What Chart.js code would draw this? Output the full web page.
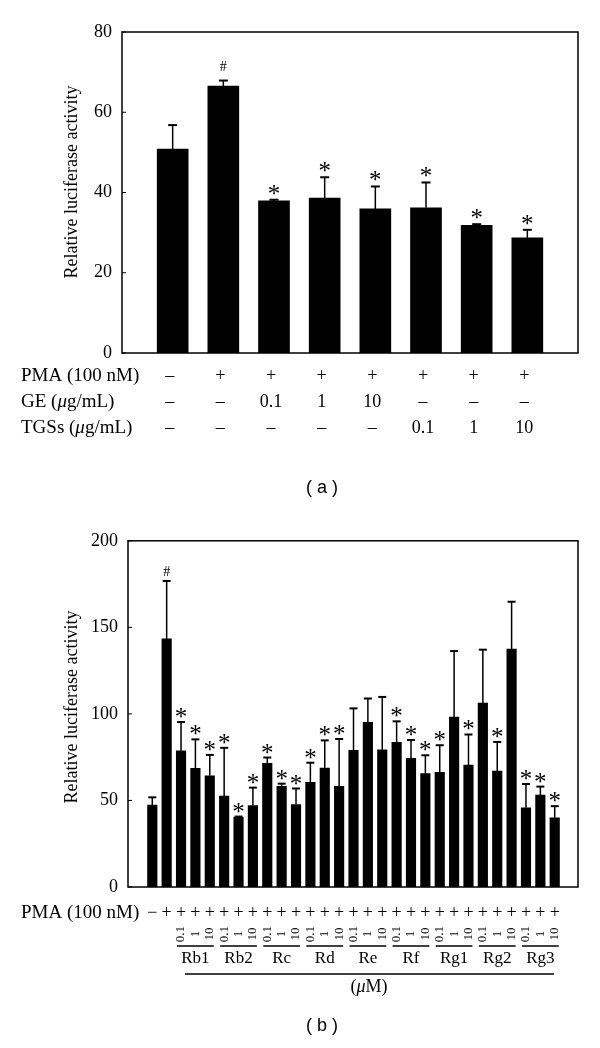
<!DOCTYPE html>
<html>
<head>
<meta charset="utf-8">
<script src="https://cdn.jsdelivr.net/npm/chart.js@4"></script>
<style>
body{margin:0;background:#fff;}
#wrap{position:relative;width:600px;height:1048px;}
canvas{position:absolute;left:0;}
</style>
</head>
<body>
<div id="wrap">
  <canvas id="chartA" width="600" height="520" style="top:0"></canvas>
  <canvas id="chartB" width="600" height="528" style="top:520px"></canvas>
</div>
<script>
// === (a) GE / TGSs ===
const aPMA = ['–','+','+','+','+','+','+','+'];
const aGE = ['–','–','0.1','1','10','–','–','–'];
const aTGS = ['–','–','–','–','–','0.1','1','10'];
const aMean = [50.8, 66.5, 37.9, 38.6, 35.9, 36.2, 31.8, 28.7];
const aErr = [6.0, 1.4, 0.3, 5.2, 5.6, 6.3, 0.3, 2.0];
const aMarks = ['', '#', '*', '*', '*', '*', '*', '*'];
const aTicks = [0, 20, 40, 60, 80];

// === (b) ginsenosides ===
const bPMA = ['−','+','+','+','+','+','+','+','+','+','+','+','+','+','+','+','+','+','+','+','+','+','+','+','+','+','+','+','+'];
const bGroups = ['Rb1','Rb2','Rc','Rd','Re','Rf','Rg1','Rg2','Rg3'];
const bDoses = ['0.1','1','10'];
const bMean = [47.3,143.3,78.7,68.5,64.2,52.5,40.3,47.1,71.4,58.2,47.6,60.5,68.7,58.2,78.9,95.1,79.3,83.6,74.4,65.5,66.3,98.1,70.4,106.2,67.0,137.5,45.8,53.1,39.9];
const bErr = [4.5,33.5,16.6,16.8,12.1,27.9,0.4,10.3,3.4,1.5,9.3,11.3,16.0,27.3,24.3,13.8,30.5,12.1,10.5,10.6,15.6,38.2,17.7,30.9,16.8,27.3,13.7,4.9,6.8];
const bMarks = ['','#','*','*','*','*','*','*','*','*','*','*','*','*','','','','*','*','*','*','','*','','*','','*','*','*'];
const bTicks = [0, 50, 100, 150, 200];

const SERIF = '"Liberation Serif", "DejaVu Serif", serif';

function richText(ctx, parts, x, y, size) {
  ctx.textAlign = 'left';
  parts.forEach(([t, it]) => {
    ctx.font = (it ? 'italic ' : '') + size + 'px ' + SERIF;
    ctx.fillText(t, x, y);
    x += ctx.measureText(t).width;
  });
}
function richWidth(ctx, parts, size) {
  let w = 0;
  parts.forEach(([t, it]) => {
    ctx.font = (it ? 'italic ' : '') + size + 'px ' + SERIF;
    w += ctx.measureText(t).width;
  });
  return w;
}

// error bars, marks, box, ticks and axis title
function makeExtras(cfg) {
  return {
    id: 'extras',
    afterDatasetsDraw(chart) {
      const ctx = chart.ctx, y = chart.scales.y;
      const meta = chart.getDatasetMeta(0);
      ctx.save();
      ctx.strokeStyle = '#000';
      ctx.fillStyle = '#000';
      meta.data.forEach((bar, i) => {
        const top = y.getPixelForValue(cfg.mean[i] + cfg.err[i]);
        ctx.lineWidth = 1.5;
        ctx.beginPath(); ctx.moveTo(bar.x, bar.y); ctx.lineTo(bar.x, top); ctx.stroke();
        ctx.lineWidth = 2;
        ctx.beginPath(); ctx.moveTo(bar.x - cfg.cap / 2, top); ctx.lineTo(bar.x + cfg.cap / 2, top); ctx.stroke();
        const m = cfg.marks[i];
        ctx.textAlign = 'center';
        ctx.textBaseline = 'alphabetic';
        if (m === '*') {
          ctx.font = '25px ' + SERIF;
          ctx.fillText('*', bar.x, top + cfg.starOff);
        } else if (m === '#') {
          ctx.font = '14px ' + SERIF;
          ctx.fillText('#', bar.x, top + cfg.hashOff);
        }
      });
      // box + inward ticks
      const a = chart.chartArea;
      ctx.lineWidth = 1.5;
      ctx.strokeRect(a.left, a.top, a.right - a.left, a.bottom - a.top);
      ctx.lineWidth = 1;
      cfg.ticks.forEach(t => {
        const py = y.getPixelForValue(t);
        ctx.beginPath(); ctx.moveTo(a.left, py); ctx.lineTo(a.left + 4, py); ctx.stroke();
      });
      // y title
      ctx.save();
      ctx.translate(72, cfg.titleY);
      ctx.rotate(-Math.PI / 2);
      ctx.textAlign = 'center';
      ctx.textBaseline = 'middle';
      ctx.font = '18px ' + SERIF;
      ctx.fillText('Relative luciferase activity', 0, 0);
      ctx.restore();
      cfg.table(ctx, chart);
      ctx.restore();
    }
  };
}

function makeChart(id, cfg) {
  return new Chart(document.getElementById(id), {
    type: 'bar',
    data: {
      datasets: [{
        data: cfg.mean.map((v, i) => ({ x: i + 1, y: v })),
        backgroundColor: '#000',
        borderWidth: 0,
        barThickness: cfg.barW
      }]
    },
    options: {
      responsive: false,
      devicePixelRatio: 1,
      animation: false,
      layout: { padding: cfg.pad },
      plugins: { legend: { display: false }, tooltip: { enabled: false } },
      scales: {
        x: { type: 'linear', offset: false, min: cfg.xMin, max: cfg.xMax, display: false },
        y: {
          min: 0, max: cfg.ticks[cfg.ticks.length - 1],
          afterFit: s => { s.width = cfg.axisW; },
          afterBuildTicks: s => { s.ticks = cfg.ticks.map(v => ({ value: v })); },
          grid: { display: false, drawTicks: false },
          border: { display: false },
          ticks: { color: '#000', padding: 10, font: { family: SERIF, size: 18 } }
        }
      }
    },
    plugins: [makeExtras(cfg)]
  });
}

// (a)
makeChart('chartA', {
  mean: aMean, err: aErr, marks: aMarks, ticks: aTicks,
  barW: 31, cap: 9, starOff: 2, hashOff: -10,
  xMin: 0, xMax: 9, axisW: 122, titleY: 182,
  pad: { left: 0, right: 22, top: 32, bottom: 167 },
  table(ctx, chart) {
    const xs = chart.scales.x;
    ctx.fillStyle = '#000';
    ctx.textBaseline = 'middle';
    const rows = [
      { y: 376, label: [['PMA (100 nM)', false]], vals: aPMA },
      { y: 402, label: [['GE (', false], ['μ', true], ['g/mL)', false]], vals: aGE },
      { y: 428, label: [['TGSs (', false], ['μ', true], ['g/mL)', false]], vals: aTGS }
    ];
    rows.forEach(r => {
      richText(ctx, r.label, 21, r.y, 19);
      ctx.font = '18px ' + SERIF;
      ctx.textAlign = 'center';
      r.vals.forEach((v, i) => ctx.fillText(v, xs.getPixelForValue(i + 1) - 3, r.y));
    });
    ctx.font = '18px "Liberation Sans", Arial, sans-serif';
    ctx.textAlign = 'center';
    ctx.fillText('( a )', 322, 488);
  }
});

// (b)
makeChart('chartB', {
  mean: bMean, err: bErr, marks: bMarks, ticks: bTicks,
  barW: 9.5, cap: 8, starOff: 3, hashOff: -5,
  xMin: -0.69, xMax: 30.62, axisW: 128, titleY: 187,
  pad: { left: 0, right: 22, top: 13, bottom: 161 },
  table(ctx, chart) {
    const xs = chart.scales.x;
    const px = i => xs.getPixelForValue(i + 1);
    ctx.fillStyle = '#000';
    ctx.strokeStyle = '#000';
    ctx.textBaseline = 'middle';
    richText(ctx, [['PMA (100 nM)', false]], 21, 393, 19);
    ctx.font = '18px ' + SERIF;
    ctx.textAlign = 'center';
    bPMA.forEach((v, i) => ctx.fillText(v, px(i), 393));
    // doses (rotated) and group names
    bGroups.forEach((g, gi) => {
      const first = 2 + gi * 3;
      bDoses.forEach((d, di) => {
        ctx.save();
        ctx.translate(px(first + di), 414);
        ctx.rotate(-Math.PI / 2);
        ctx.font = '13px ' + SERIF;
        ctx.textAlign = 'center';
        ctx.fillText(d, 0, 0);
        ctx.restore();
      });
      const x1 = px(first) - 4, x2 = px(first + 2) + 4;
      ctx.lineWidth = 1.5;
      ctx.beginPath(); ctx.moveTo(x1, 426); ctx.lineTo(x2, 426); ctx.stroke();
      ctx.font = '17px ' + SERIF;
      ctx.textAlign = 'center';
      ctx.fillText(g, (x1 + x2) / 2, 439);
    });
    ctx.lineWidth = 1.5;
    ctx.beginPath(); ctx.moveTo(185, 454); ctx.lineTo(554, 454); ctx.stroke();
    const unit = [['(', false], ['μ', true], ['M)', false]];
    richText(ctx, unit, 369 - richWidth(ctx, unit, 18) / 2, 467, 18);
    ctx.font = '18px "Liberation Sans", Arial, sans-serif';
    ctx.textAlign = 'center';
    ctx.fillText('( b )', 322, 506);
  }
});
</script>
</body>
</html>
